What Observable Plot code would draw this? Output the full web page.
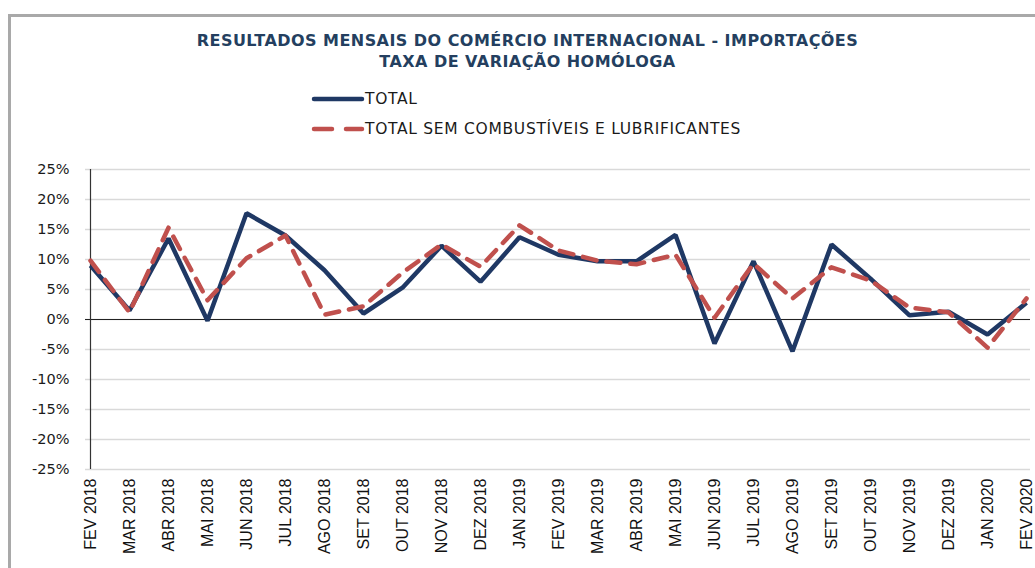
<!DOCTYPE html>
<html>
<head>
<meta charset="utf-8">
<script src="https://cdn.jsdelivr.net/npm/d3@7"></script>
<script src="https://cdn.jsdelivr.net/npm/@observablehq/plot@0.6"></script>
<style>
  html, body { margin: 0; padding: 0; background: #fff; }
  body { position: relative; width: 1035px; height: 568px; overflow: hidden; }
  #frame { position: absolute; left: 8px; top: 14px; width: 1100px; height: 600px;
           border-left: 3px solid #a9a9a9; border-top: 3px solid #a9a9a9; }
  #title { position: absolute; left: 0; top: 30px; width: 1055px; text-align: center;
           font-family: "DejaVu Sans", sans-serif; font-weight: bold;
           font-size: 16px; letter-spacing: 0.45px; line-height: 21px; color: #243f60; }
  .leg { position: absolute; left: 310px; display: flex; align-items: center;
         font-family: "DejaVu Sans", sans-serif; font-size: 15.5px; letter-spacing: 0.7px; color: #1a1a1a; }
  .leg svg { display: block; margin-right: 0px; }
  #chart { position: absolute; left: 0; top: 150px; }
</style>
</head>
<body>
<div id="frame"></div>
<div id="title">RESULTADOS MENSAIS DO COMÉRCIO INTERNACIONAL - IMPORTAÇÕES<br>TAXA DE VARIAÇÃO HOMÓLOGA</div>
<div class="leg" style="top:89px">
  <svg width="55" height="20"><line x1="4" y1="10" x2="52" y2="10" stroke="#1f3864" stroke-width="4.5" stroke-linecap="round"/></svg>
  <span>TOTAL</span>
</div>
<div class="leg" style="top:119px">
  <svg width="55" height="20"><line x1="4" y1="10" x2="52" y2="10" stroke="#c0504d" stroke-width="4.5" stroke-linecap="round" stroke-dasharray="18,14"/></svg>
  <span>TOTAL SEM COMBUSTÍVEIS E LUBRIFICANTES</span>
</div>
<div id="chart"></div>
<script>
const months = ["FEV 2018","MAR 2018","ABR 2018","MAI 2018","JUN 2018","JUL 2018","AGO 2018","SET 2018","OUT 2018","NOV 2018","DEZ 2018","JAN 2019",
                "FEV 2019","MAR 2019","ABR 2019","MAI 2019","JUN 2019","JUL 2019","AGO 2019","SET 2019","OUT 2019","NOV 2019","DEZ 2019","JAN 2020","FEV 2020"];
const total   = [9.0, 1.5, 13.5, -0.2, 17.7, 14.0, 8.2, 1.0, 5.3, 12.3, 6.3, 13.7, 10.8, 9.7, 9.7, 14.1, -4.0, 9.7, -5.3, 12.5, 6.8, 0.7, 1.3, -2.5, 2.8];
const semComb = [9.8, 1.2, 15.3, 3.2, 10.2, 14.0, 0.8, 2.2, 7.8, 12.5, 8.8, 15.7, 11.5, 9.8, 9.2, 10.8, 0.3, 9.3, 3.5, 8.7, 6.5, 2.0, 1.2, -4.7, 3.5];
const yTicks = [-25, -20, -15, -10, -5, 0, 5, 10, 15, 20, 25];
const seriesNames = ["TOTAL", "TOTAL SEM COMBUSTÍVEIS E LUBRIFICANTES"];

const rows = months.flatMap((m, i) => [
  {month: m, value: total[i], series: seriesNames[0]},
  {month: m, value: semComb[i], series: seriesNames[1]}
]);

const chart = Plot.plot({
  width: 1035,
  height: 418,
  marginTop: 19,
  marginBottom: 99,
  marginLeft: 85,
  marginRight: 5,
  style: {background: "transparent", overflow: "visible"},
  x: {type: "point", domain: months, padding: 0},
  y: {domain: [-25, 25]},
  marks: [
    Plot.ruleY(yTicks, {stroke: "#d9d9d9", strokeWidth: 1.5}),
    Plot.ruleY([0], {stroke: "#222", strokeWidth: 1.2}),
    Plot.ruleX([months[0]], {y1: -25, y2: 25, stroke: "#333", strokeWidth: 1.2}),
    Plot.line(rows.filter(d => d.series === seriesNames[0]), {
      x: "month", y: "value", stroke: "#1f3864", strokeWidth: 4.5, strokeLinejoin: "miter", strokeLinecap: "butt"
    }),
    Plot.line(rows.filter(d => d.series === seriesNames[1]), {
      x: "month", y: "value", stroke: "#c0504d", strokeWidth: 4.5, strokeDasharray: "14,10", strokeLinecap: "round"
    }),
    Plot.axisY({ticks: yTicks, tickSize: 0, tickPadding: 16, tickFormat: d => d + "%",
      fontSize: 14.5, fontFamily: "DejaVu Sans", fill: "#1a1a1a", label: null}),
    Plot.axisX({tickSize: 0, tickPadding: 9, tickRotate: -90, fontSize: 16,
      fontFamily: "Liberation Sans", fill: "#111", label: null})
  ]
});
document.getElementById("chart").appendChild(chart);
</script>
</body>
</html>
